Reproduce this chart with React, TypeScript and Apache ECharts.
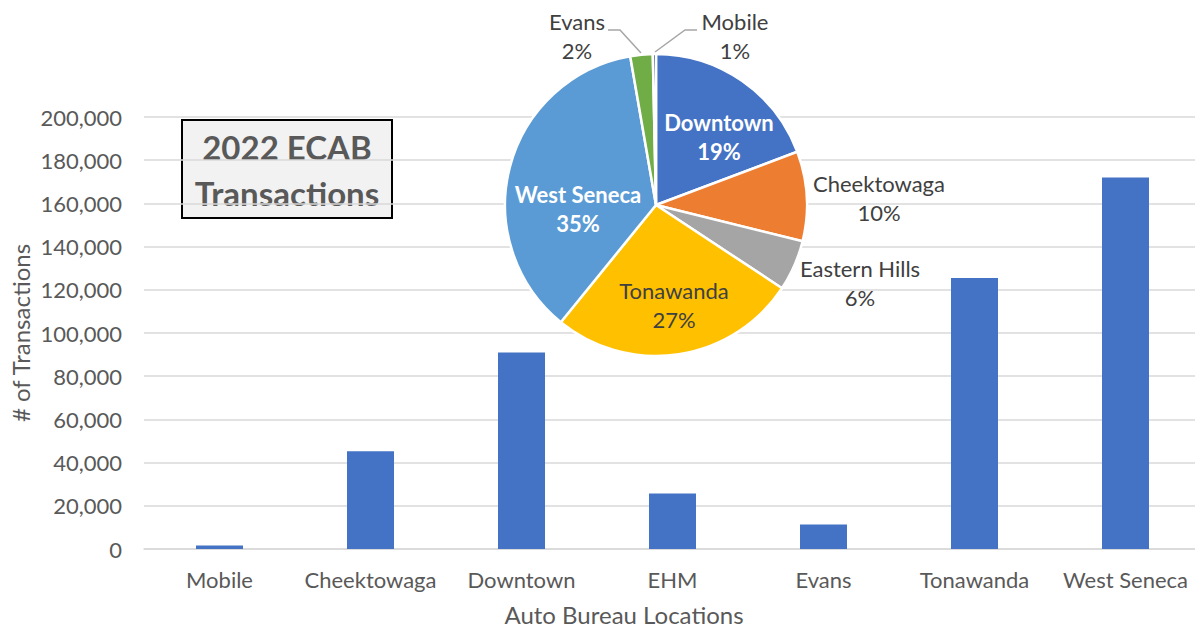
import React, { useEffect, useRef } from "react";
import * as echarts from "echarts";

const categories = ["Mobile", "Cheektowaga", "Downtown", "EHM", "Evans", "Tonawanda", "West Seneca"];
const transactions = [1600, 45300, 91000, 25700, 11300, 125500, 172000];

const pieNames = ["Downtown", "Cheektowaga", "Eastern Hills", "Tonawanda", "West Seneca", "Evans", "Mobile"];
const pieSourceIndex = [2, 1, 3, 5, 6, 4, 0];
const pieLabelPct = [19, 10, 6, 27, 35, 2, 1];
const pieColors = ["#4472C4", "#ED7D31", "#A5A5A5", "#FFC000", "#5B9BD5", "#70AD47", "#264478"];

const yTicks = { min: 0, max: 200000, interval: 20000 };

const xAxisTitle = "Auto Bureau Locations";
const yAxisTitle = "# of Transactions";
const boxTitle = "2022 ECAB\nTransactions";

const FONT = "Lato, 'Noto Sans', sans-serif";

// label placement per pie slice (center of label block), and leader lines
const pieLabelPos: Record<number, { x: number; y: number; line?: number[][] }> = {
  0: { x: 719, y: 137 },
  1: { x: 879, y: 198 },
  2: { x: 860, y: 283 },
  3: { x: 674, y: 305 },
  4: { x: 578, y: 209 },
  5: { x: 577, y: 36, line: [[608, 30], [620, 30], [641, 53]] },
  6: { x: 735, y: 36, line: [[697, 30], [685, 30], [655, 52]] },
};

export default function App() {
  const ref = useRef<HTMLDivElement>(null);
  useEffect(() => {
    document.body.style.margin = "0";
    const chart = echarts.init(ref.current!, undefined, { renderer: "svg" });
    const pieData = pieNames.map((n, i) => {
      const inside = i === 0 || i === 4 || i === 3;
      const white = i === 0 || i === 4;
      return {
        name: n,
        value: transactions[pieSourceIndex[i]],
        itemStyle: { color: pieColors[i] },
        label: {
          position: inside ? "inside" : "outside",
          color: white ? "#FFFFFF" : "#404040",
          fontWeight: white ? "bold" : "normal",
        },
        labelLine: { show: i === 5 || i === 6 },
      };
    });
    chart.setOption({
      animation: false,
      textStyle: { fontFamily: FONT },
      grid: { left: 144, width: 1057, top: 117, height: 432, outerBoundsMode: "none", containLabel: false },
      xAxis: {
        type: "category",
        data: categories,
        axisLine: { show: true, lineStyle: { color: "#D9D9D9", width: 1.5 } },
        axisTick: { show: false },
        axisLabel: { color: "#595959", fontSize: 22, margin: 19, interval: 0, fontFamily: FONT },
      },
      yAxis: {
        type: "value",
        min: yTicks.min,
        max: yTicks.max,
        interval: yTicks.interval,
        axisLine: { show: false },
        axisTick: { show: false },
        splitLine: { lineStyle: { color: "#D9D9D9", width: 1.5 } },
        axisLabel: {
          color: "#595959",
          fontSize: 22,
          margin: 22,
          fontFamily: FONT,
          formatter: (v: number) => v.toLocaleString("en-US"),
        },
        name: yAxisTitle,
        nameLocation: "middle",
        nameGap: 112,
        nameMoveOverlap: false,
        nameRotate: 90,
        nameTextStyle: { color: "#595959", fontSize: 24, fontFamily: FONT },
      },
      series: [
        {
          type: "bar",
          data: transactions,
          barWidth: 47,
          itemStyle: { color: "#4472C4" },
          z: 2,
        },
        {
          type: "pie",
          center: [656, 205],
          radius: 151,
          startAngle: 90,
          clockwise: true,
          z: 5,
          data: pieData,
          itemStyle: { borderColor: "#FFFFFF", borderWidth: 2.5 },
          label: {
            show: true,
            fontSize: 22,
            lineHeight: 29,
            fontFamily: FONT,
            formatter: (p: any) => `${p.name}\n${pieLabelPct[p.dataIndex]}%`,
          },
          labelLine: { lineStyle: { color: "#A6A6A6", width: 1.5 }, length: 10, length2: 10 },
          labelLayout: (params: any) => {
            if (params.seriesIndex !== 1) return {};
            const pos = pieLabelPos[params.dataIndex];
            if (!pos) return {};
            const out: any = { x: pos.x, y: pos.y, align: "center", verticalAlign: "middle" };
            if (pos.line) out.labelLinePoints = pos.line;
            return out;
          },
        },
      ],
      graphic: [
        {
          type: "text",
          x: 624,
          y: 614,
          style: {
            text: xAxisTitle,
            fill: "#595959",
            font: `24px ${FONT}`,
            lineHeight: 26,
            align: "center",
            verticalAlign: "middle",
          },
        },
        {
          type: "group",
          left: 181,
          top: 119,
          z: 10,
          children: [
            {
              type: "rect",
              shape: { x: 0, y: 0, width: 210, height: 98 },
              style: { fill: "#F2F2F2", stroke: "#000000", lineWidth: 2 },
            },
            {
              type: "text",
              x: 105,
              y: 50,
              style: {
                text: boxTitle,
                fill: "#595959",
                font: `bold 33px ${FONT}`,
                lineHeight: 46,
                align: "center",
                verticalAlign: "middle",
              },
            },
          ],
        },
      ],
    });
    return () => chart.dispose();
  }, []);
  return <div ref={ref} style={{ width: 1195, height: 630 }} />;
}
